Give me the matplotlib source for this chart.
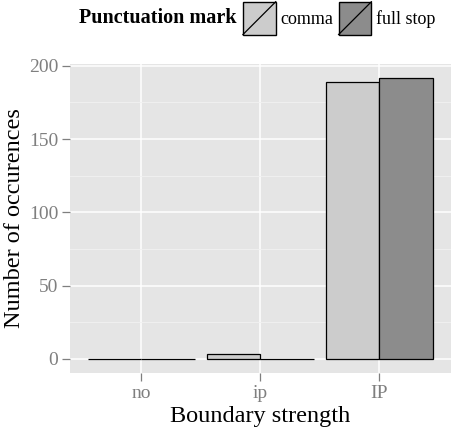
import numpy as np
import matplotlib.pyplot as plt
from matplotlib.patches import Rectangle
from matplotlib.lines import Line2D
from matplotlib.legend_handler import HandlerBase

# ---------- data ----------
CATEGORIES = ["no", "ip", "IP"]
COMMA = [0, 3, 189]
FULL_STOP = [0, 0, 192]
SERIES = ["comma", "full stop"]

# ---------- style ----------
COLOR_COMMA = "#CCCCCC"
COLOR_STOP = "#8C8C8C"
PANEL_BG = "#E5E5E5"
TICK_GREY = "#7F7F7F"

plt.rcParams['font.family'] = 'serif'
plt.rcParams['font.serif'] = ['Liberation Serif', 'DejaVu Serif']


class SlashKeyHandler(HandlerBase):
    """ggplot-style legend key: filled square with a diagonal slash."""
    def create_artists(self, legend, orig_handle, xdescent, ydescent,
                       width, height, fontsize, trans):
        side = min(width, height)
        x0 = -xdescent + (width - side) / 2
        y0 = -ydescent + (height - side) / 2
        rect = Rectangle((x0, y0), side, side, facecolor=orig_handle.get_facecolor(),
                         edgecolor='black', lw=1.0, transform=trans)
        line = Line2D([x0, x0 + side], [y0, y0 + side], color='black', lw=0.9,
                      transform=trans)
        return [rect, line]


fig = plt.figure(figsize=(4.54, 4.32), dpi=100)
ax = fig.add_axes([0.154, 0.137, 0.839, 0.716])
ax.set_facecolor(PANEL_BG)

x = np.arange(1, len(CATEGORIES) + 1)
w = 0.45
ax.bar(x - w / 2, COMMA, width=w, color=COLOR_COMMA, edgecolor='black', lw=0.9, zorder=3)
ax.bar(x + w / 2, FULL_STOP, width=w, color=COLOR_STOP, edgecolor='black', lw=0.9, zorder=3)

ax.set_xlim(0.4, 3.6)
top = max(max(COMMA), max(FULL_STOP))
ax.set_ylim(-0.05 * top, 1.05 * top)
ax.set_xticks(x)
ax.set_xticklabels(CATEGORIES)
ax.set_yticks([0, 50, 100, 150, 200])
ax.set_yticks([25, 75, 125, 175], minor=True)

ax.grid(True, which='major', color='white', lw=1.1, zorder=0)
ax.grid(True, which='minor', axis='y', color='#F2F2F2', lw=0.6, zorder=0)
ax.set_axisbelow(True)
for s in ax.spines.values():
    s.set_visible(False)

ax.tick_params(axis='both', which='major', colors=TICK_GREY, labelsize=14,
               length=5.5, width=0.9, pad=3)
ax.tick_params(axis='both', which='minor', length=0)

ax.set_xlabel("Boundary strength", fontsize=17.5, labelpad=3)
ax.set_ylabel("Number of occurences", fontsize=17.5, labelpad=3)

# ---------- legend ----------
fig.text(0.174, 0.958, "Punctuation mark", fontsize=14.5, fontweight='bold',
         ha='left', va='center')
handles = [Rectangle((0, 0), 1, 1, facecolor=COLOR_COMMA),
           Rectangle((0, 0), 1, 1, facecolor=COLOR_STOP)]
fig.legend(handles, SERIES, loc='center left', bbox_to_anchor=(0.535, 0.958),
           ncol=2, frameon=False, fontsize=13,
           handler_map={Rectangle: SlashKeyHandler()},
           handlelength=1.82, handleheight=2.42, handletextpad=0.25,
           columnspacing=0.3, borderpad=0, borderaxespad=0)

fig.savefig("out.png", dpi=100)
